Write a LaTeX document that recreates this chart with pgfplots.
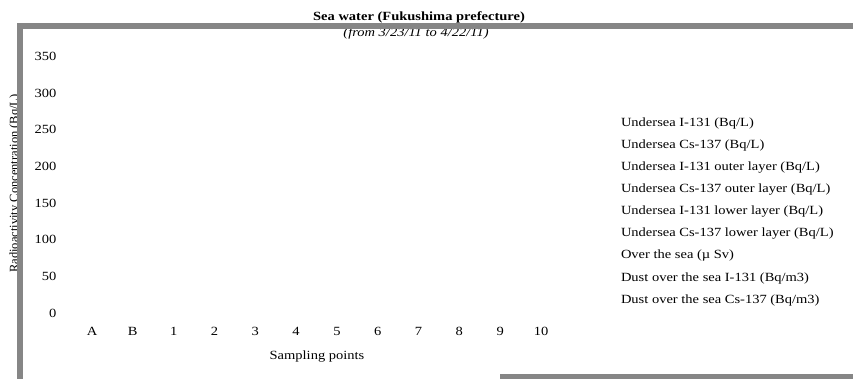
\documentclass[border=0pt]{standalone}
\usepackage{pgfplots}
\pgfplotsset{compat=1.18}
\usepackage{fontspec}
\setmainfont{Liberation Serif}[FakeStretch=1.16]
\newfontfamily\plainserif{Liberation Serif}
\definecolor{framegray}{RGB}{134,134,134}
\newcommand\fs{\fontsize{12.5bp}{15bp}\selectfont}
\begin{document}
\begin{tikzpicture}[x=1bp,y=1bp]
\useasboundingbox (0,0) rectangle (853,379);
\begin{axis}[
  at={(71.6bp,66bp)}, anchor=south west,
  scale only axis, width=489.8bp, height=256.7bp,
  xmin=-0.5, xmax=11.5, ymin=0, ymax=350,
  xtick={0,...,11}, xticklabels={A,B,1,2,3,4,5,6,7,8,9,10},
  ytick={0,50,...,350},
  axis line style={draw=none}, tick style={draw=none}, major tick length=0pt,
  /pgf/number format/assume math mode=true,
  tick label style={font=\fs},
  yticklabel style={anchor=east, inner sep=0pt, xshift=-15bp},
  xticklabel style={anchor=base, inner sep=0pt, yshift=-22.7bp},
  legend cell align=left,
  legend style={draw=none, fill=none, inner sep=0pt, outer sep=0pt,
    font=\fs, at={(1.1217,0.762)}, anchor=north west,
    nodes={inner sep=0pt, text height=9bp, text depth=3bp},
    row sep=10.1bp},
  legend image code/.code={},
]
\addlegendimage{empty legend}
\addlegendimage{empty legend}
\addlegendimage{empty legend}
\addlegendimage{empty legend}
\addlegendimage{empty legend}
\addlegendimage{empty legend}
\addlegendimage{empty legend}
\addlegendimage{empty legend}
\addlegendimage{empty legend}
\legend{Undersea I-131 (Bq/L),Undersea Cs-137 (Bq/L),Undersea I-131 outer layer (Bq/L),Undersea Cs-137 outer layer (Bq/L),Undersea I-131 lower layer (Bq/L),Undersea Cs-137 lower layer (Bq/L),Over the sea (µ Sv),Dust over the sea I-131 (Bq/m3),Dust over the sea Cs-137 (Bq/m3)}
\end{axis}
\node[anchor=base, inner sep=0pt, font=\fs\bfseries] at (419,358.3) {Sea water (Fukushima prefecture)};
\node[anchor=base, inner sep=0pt, font=\fs\itshape] at (416,342.5) {(from 3/23/11 to 4/22/11)};
\node[anchor=base, inner sep=0pt, font=\fs] at (317,20) {Sampling points};
\node[anchor=base, inner sep=0pt, rotate=90, font=\plainserif\fontsize{12.5bp}{15bp}\selectfont] at (18,195.5) {Radioactivity Concentration (Bq/L)};
\fill[framegray] (16.5,350) rectangle (853,356);
\fill[framegray] (16.5,0) rectangle (22.5,356);
\fill[framegray] (500,0) rectangle (853,5);
\end{tikzpicture}
\end{document}
